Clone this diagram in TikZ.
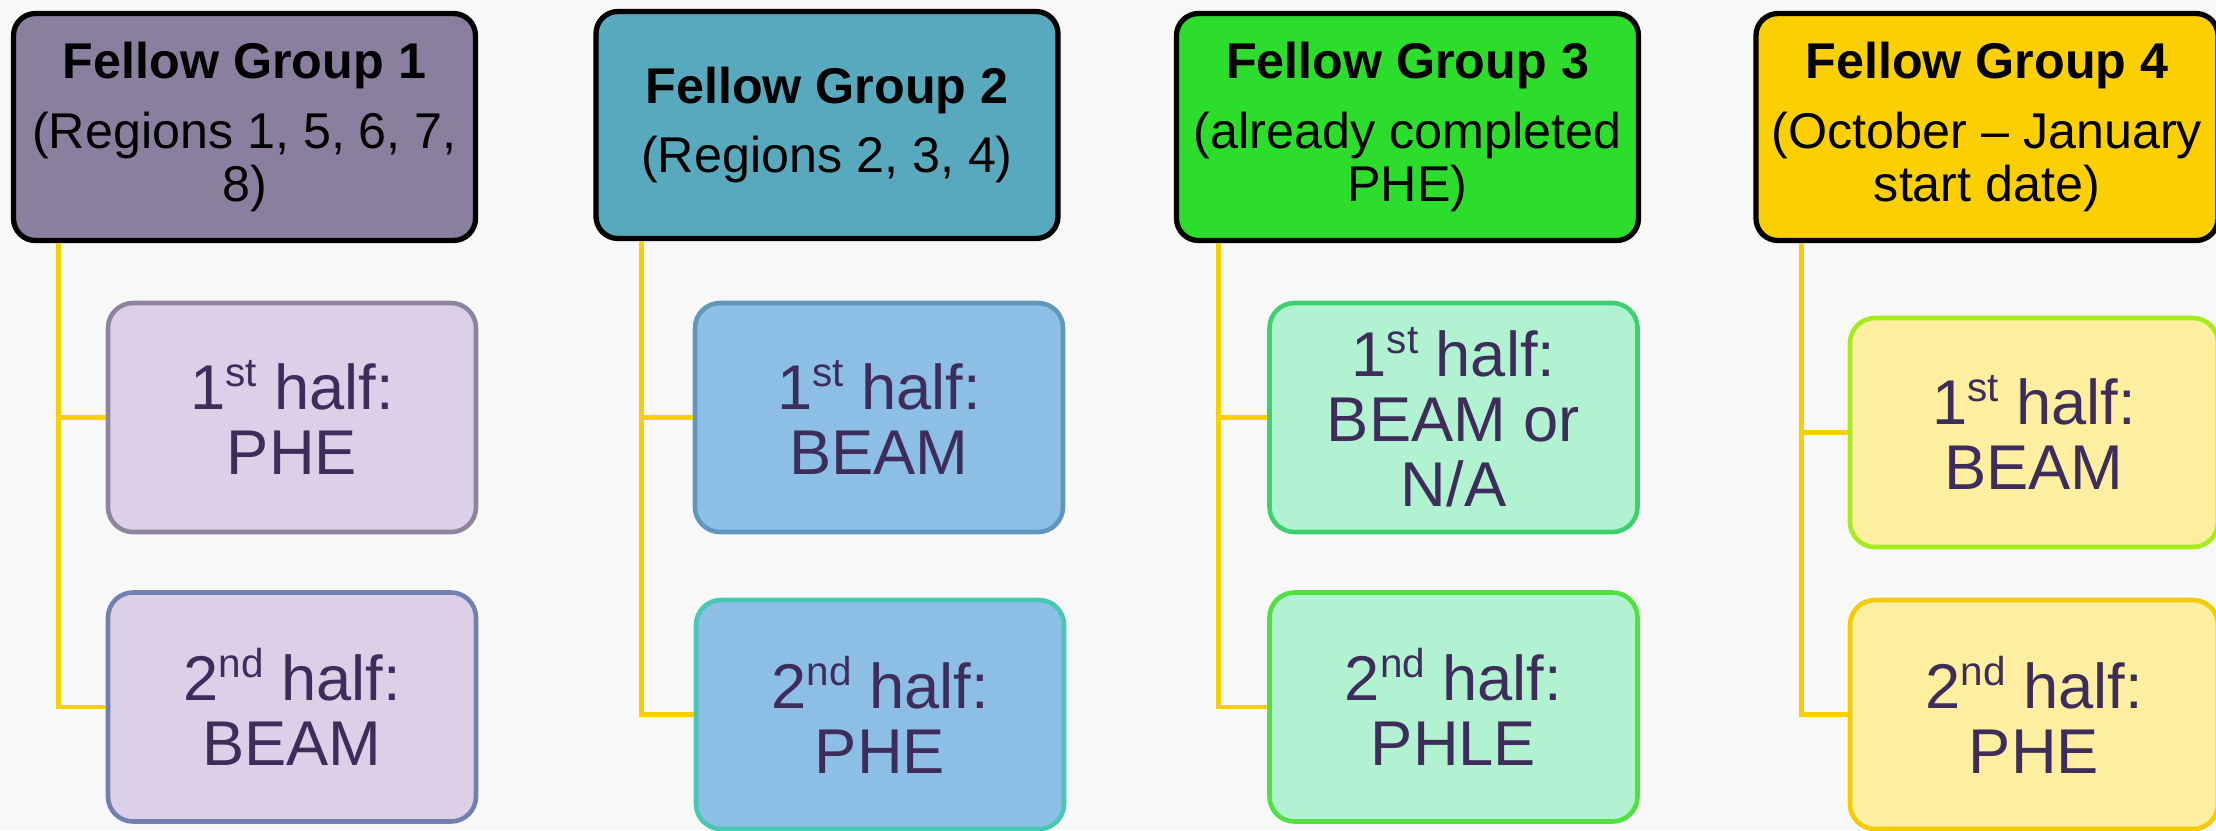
\documentclass[tikz,border=0pt]{standalone}
\usepackage{fontspec}
\setmainfont{Liberation Sans}
\usetikzlibrary{positioning}

\definecolor{paper}{HTML}{F8F8F8}
\definecolor{grpone}{HTML}{8A7F9F}
\definecolor{grptwo}{HTML}{58A9BD}
\definecolor{grpthree}{HTML}{2CDD2C}
\definecolor{grpfour}{HTML}{FBCF00}
\definecolor{kidone}{HTML}{DCD0E8}
\definecolor{kidtwo}{HTML}{8DBFE6}
\definecolor{kidthree}{HTML}{B1F2D0}
\definecolor{kidfour}{HTML}{FEEEA0}
\definecolor{edgeonea}{HTML}{8E849F}
\definecolor{edgeoneb}{HTML}{7080B0}
\definecolor{edgetwoa}{HTML}{5F97BD}
\definecolor{edgetwob}{HTML}{48C8B2}
\definecolor{edgethreea}{HTML}{3ECF6E}
\definecolor{edgethreeb}{HTML}{50E040}
\definecolor{edgefoura}{HTML}{A5EB1E}
\definecolor{edgefourb}{HTML}{F6CA00}
\definecolor{kidtext}{HTML}{3E2C5B}
\definecolor{tiegold}{HTML}{F9CF00}

\newcommand{\ordsup}[1]{\raisebox{6.6pt}{\fontsize{11.5}{11.5}\selectfont #1}}

\begin{document}
\begin{tikzpicture}[every node/.style={align=center}]

	\tikzset{
	head/.style={draw=black, line width=1.5pt, rounded corners=0.22cm, minimum width=4.62cm, minimum height=2.27cm, text=black, font=\fontsize{14.3}{15}\selectfont},
	half/.style={rounded corners=0.25cm, line width=1.3pt, minimum width=3.68cm, minimum height=2.29cm, text=kidtext, font=\fontsize{18}{18.5}\selectfont},
	tie/.style={draw=tiegold, line width=1.4pt}
	}

	% Background
	\fill[paper] (0,0) rectangle (22.16,-8.30);
	\useasboundingbox (0,0) rectangle (22.16,-8.30);

	% Groups
	\node[head, fill=grpone] (g1) at (2.445,-1.27) {\textbf{Fellow Group 1}\\[4.8pt](Regions 1, 5, 6, 7,\\8)};
	\node[head, fill=grptwo, node distance=5.825cm, right of=g1, yshift=0.02cm] (g2) {\textbf{Fellow Group 2}\\[4.8pt](Regions 2, 3, 4)};
	\node[head, fill=grpthree, node distance=5.805cm, right of=g2, yshift=-0.02cm] (g3) {\textbf{Fellow Group 3}\\[4.8pt](already completed\\PHE)};
	\node[head, fill=grpfour, node distance=5.795cm, right of=g3] (g4) {\textbf{Fellow Group 4}\\[4.8pt](October -- January\\start date)};

	% Halves
	\node[half, fill=kidone, draw=edgeonea, node distance=2.905cm, below of=g1, xshift=0.475cm] (g1a) {1\ordsup{st} half:\\PHE};
	\node[half, fill=kidone, draw=edgeoneb, node distance=5.8cm, below of=g1, xshift=0.475cm] (g1b) {2\ordsup{nd} half:\\BEAM};
	\node[half, fill=kidtwo, draw=edgetwoa, node distance=2.925cm, below of=g2, xshift=0.52cm] (g2a) {1\ordsup{st} half:\\BEAM};
	\node[half, fill=kidtwo, draw=edgetwob, node distance=5.895cm, below of=g2, xshift=0.53cm] (g2b) {2\ordsup{nd} half:\\PHE};
	\node[half, fill=kidthree, draw=edgethreea, node distance=2.905cm, below of=g3, xshift=0.46cm] (g3a) {1\ordsup{st} half:\\BEAM or\\N/A};
	\node[half, fill=kidthree, draw=edgethreeb, node distance=5.8cm, below of=g3, xshift=0.46cm] (g3b) {2\ordsup{nd} half:\\PHLE};
	\node[half, fill=kidfour, draw=edgefoura, node distance=3.055cm, below of=g4, xshift=0.47cm] (g4a) {1\ordsup{st} half:\\BEAM};
	\node[half, fill=kidfour, draw=edgefourb, node distance=5.875cm, below of=g4, xshift=0.47cm] (g4b) {2\ordsup{nd} half:\\PHE};

	% Lines
	\draw[tie] ([xshift=0.48cm]g1.south west) |- (g1a.west);
	\draw[tie] ([xshift=0.48cm]g1.south west) |- (g1b.west);
	\draw[tie] ([xshift=0.48cm]g2.south west) |- (g2a.west);
	\draw[tie] ([xshift=0.48cm]g2.south west) |- (g2b.west);
	\draw[tie] ([xshift=0.45cm]g3.south west) |- (g3a.west);
	\draw[tie] ([xshift=0.45cm]g3.south west) |- (g3b.west);
	\draw[tie] ([xshift=0.48cm]g4.south west) |- (g4a.west);
	\draw[tie] ([xshift=0.48cm]g4.south west) |- (g4b.west);

\end{tikzpicture}
\end{document}
